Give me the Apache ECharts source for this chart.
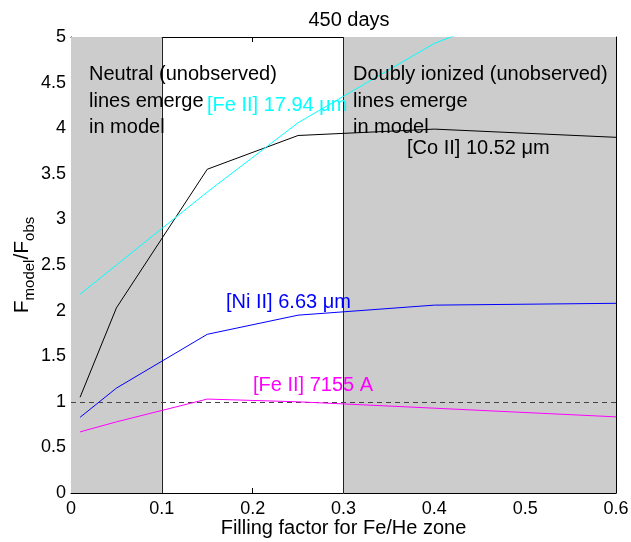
<!DOCTYPE html>
<html>
<head>
<meta charset="utf-8">
<script src="https://cdn.jsdelivr.net/npm/echarts@6/dist/echarts.min.js"></script>
<style>html,body{margin:0;padding:0;background:#fff;}#c{width:631px;height:542px;}</style>
</head>
<body>
<div id="c"></div>
<script>
const fillingFactor = [0.01, 0.05, 0.15, 0.25, 0.4, 0.6];
const coII_1052 = [1.05, 2.03, 3.55, 3.92, 3.99, 3.90];
const feII_1794 = [2.18, 2.50, 3.30, 4.06, 4.93, 5.70];
const niII_663 = [0.83, 1.15, 1.74, 1.95, 2.06, 2.08];
const feII_7155 = [0.67, 0.78, 1.03, 1.00, 0.93, 0.835];
const shadedRegions = [[0, 0.1], [0.3, 0.6]];
const regionBorders = [0.1, 0.3];
const referenceLevel = 1;
const xTicks = { min: 0, max: 0.6, interval: 0.1 };
const yTicks = { min: 0, max: 5, interval: 0.5 };

const FONT = '"Liberation Sans", Arial, Helvetica, sans-serif';
const pairs = (ys) => fillingFactor.map((x, i) => [x, ys[i]]);

const chart = echarts.init(document.getElementById('c'), null, { renderer: 'canvas' });

const lineSeries = (name, data, color) => ({
  name, type: 'line', data: pairs(data), symbol: 'none', clip: true, z: 5,
  lineStyle: { color, width: 1 }, animation: false
});

const mkAxis = (extra) => Object.assign({
  axisLine: { show: true, onZero: false, lineStyle: { color: '#000', width: 1 } },
  axisTick: { show: true, inside: true, length: 5, lineStyle: { color: '#000', width: 1 } },
  splitLine: { show: false }
}, extra);

chart.setOption({
  animation: false,
  backgroundColor: '#fff',
  title: {
    text: '450 days', left: 344, top: 5, textAlign: 'center',
    textStyle: { fontFamily: FONT, fontSize: 20, fontWeight: 'normal', color: '#000' }
  },
  grid: { left: 71, right: 15, top: 37, bottom: 49, show: false, containLabel: false, outerBoundsMode: 'none' },
  xAxis: [
    mkAxis({
      type: 'value', position: 'bottom', min: xTicks.min, max: xTicks.max, interval: xTicks.interval,
      axisLabel: { fontFamily: FONT, fontSize: 18, color: '#000', margin: 7 },
      name: 'Filling factor for Fe/He zone', nameLocation: 'middle', nameGap: 25, nameMoveOverlap: false,
      nameTextStyle: { fontFamily: FONT, fontSize: 20, color: '#000' }
    }),
    mkAxis({
      type: 'value', position: 'top', min: xTicks.min, max: xTicks.max, interval: xTicks.interval,
      axisLabel: { show: false }
    })
  ],
  yAxis: [
    mkAxis({
      type: 'value', position: 'left', min: yTicks.min, max: yTicks.max, interval: yTicks.interval,
      axisLabel: { fontFamily: FONT, fontSize: 18, color: '#000', margin: 5 }
    }),
    mkAxis({
      type: 'value', position: 'right', min: yTicks.min, max: yTicks.max, interval: yTicks.interval,
      axisLabel: { show: false }
    })
  ],
  series: [
    {
      name: 'regions', type: 'line', data: [], z: 1, silent: true,
      markArea: {
        silent: true,
        itemStyle: { color: '#cccccc' },
        data: shadedRegions.map(r => [{ xAxis: r[0] }, { xAxis: r[1] }])
      },
      markLine: {
        silent: true, symbol: ['none', 'none'], label: { show: false },
        lineStyle: { color: '#222', width: 1, type: 'solid' },
        data: regionBorders.map(v => ({ xAxis: v }))
      }
    },
    {
      name: 'ref', type: 'line', data: [], z: 4, silent: true,
      markLine: {
        silent: true, symbol: ['none', 'none'], label: { show: false },
        lineStyle: { color: '#444', width: 1, type: [5, 4] },
        data: [{ yAxis: referenceLevel }]
      }
    },
    lineSeries('[Co II] 10.52 μm', coII_1052, '#000000'),
    lineSeries('[Fe II] 17.94 μm', feII_1794, '#00ffff'),
    lineSeries('[Ni II] 6.63 μm', niII_663, '#0000ff'),
    lineSeries('[Fe II] 7155 A', feII_7155, '#ff00ff')
  ],
  graphic: [
    {
      type: 'text', x: 89, y: 101, z: 10,
      style: { text: 'Neutral (unobserved)\nlines emerge\nin model', font: '20px ' + FONT, fill: '#000',
        textAlign: 'left', textVerticalAlign: 'middle', lineHeight: 26.5 }
    },
    {
      type: 'text', x: 353, y: 101, z: 10,
      style: { text: 'Doubly ionized (unobserved)\nlines emerge\nin model', font: '20px ' + FONT, fill: '#000',
        textAlign: 'left', textVerticalAlign: 'middle', lineHeight: 26.5 }
    },
    {
      type: 'text', x: 207, y: 105, z: 10,
      style: { text: '[Fe II] 17.94 μm', font: '20px ' + FONT, fill: '#00ffff', textAlign: 'left', textVerticalAlign: 'middle' }
    },
    {
      type: 'text', x: 407, y: 148, z: 10,
      style: { text: '[Co II] 10.52 μm', font: '20px ' + FONT, fill: '#000', textAlign: 'left', textVerticalAlign: 'middle' }
    },
    {
      type: 'text', x: 226, y: 302, z: 10,
      style: { text: '[Ni II] 6.63 μm', font: '20px ' + FONT, fill: '#0000ff', textAlign: 'left', textVerticalAlign: 'middle' }
    },
    {
      type: 'text', x: 253, y: 385, z: 10,
      style: { text: '[Fe II] 7155 A', font: '20px ' + FONT, fill: '#ff00ff', textAlign: 'left', textVerticalAlign: 'middle' }
    },
    {
      type: 'text', x: 22, y: 265, rotation: Math.PI / 2, z: 10,
      style: {
        text: '{a|F}{b|model}{a|/F}{b|obs}',
        textAlign: 'center', textVerticalAlign: 'middle',
        rich: {
          a: { fontFamily: FONT, fontSize: 21, color: '#000', lineHeight: 21, verticalAlign: 'top' },
          b: { fontFamily: FONT, fontSize: 15, color: '#000', lineHeight: 15, verticalAlign: 'top', padding: [11, 0, 0, 0] }
        }
      }
    }
  ]
});
</script>
</body>
</html>
